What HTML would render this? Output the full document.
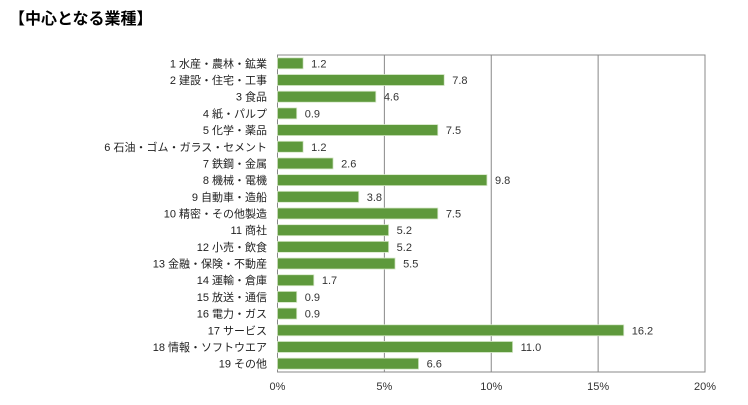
<!DOCTYPE html>
<html><head><meta charset="utf-8"><style>
body{margin:0;background:#fff;width:748px;height:400px;overflow:hidden}
text{font-family:"Liberation Sans","Noto Sans CJK JP",sans-serif}
</style></head><body>
<svg width="748" height="400" xmlns="http://www.w3.org/2000/svg">
<text x="9" y="24" font-size="16" font-weight="bold" fill="#000">【中心となる業種】</text>
<g id="c"></g>
</svg>
<script>
(function(){
var L=["1 水産・農林・鉱業","2 建設・住宅・工事","3 食品","4 紙・パルプ","5 化学・薬品","6 石油・ゴム・ガラス・セメント","7 鉄鋼・金属","8 機械・電機","9 自動車・造船","10 精密・その他製造","11 商社","12 小売・飲食","13 金融・保険・不動産","14 運輸・倉庫","15 放送・通信","16 電力・ガス","17 サービス","18 情報・ソフトウエア","19 その他"];
var V=[1.2,7.8,4.6,0.9,7.5,1.2,2.6,9.8,3.8,7.5,5.2,5.2,5.5,1.7,0.9,0.9,16.2,11.0,6.6];
var x0=277.5,w=427.5,y0=55,yb=372,p=(yb-y0)/19;
var s='';
for(var i=1;i<=4;i++){var x=x0+w*i/4;s+='<line x1="'+x+'" y1="'+y0+'" x2="'+x+'" y2="'+yb+'" stroke="#888" stroke-width="1"/>';}
s+='<rect x="'+x0+'" y="'+y0+'" width="'+w+'" height="'+(yb-y0)+'" fill="none" stroke="#888"/>';
for(var j=0;j<V.length;j++){var v=V[j];var y=y0+p*j+p/2;var bw=w*v/20;
s+='<rect x="'+x0+'" y="'+(y-5.5)+'" width="'+bw+'" height="11" fill="#5e993c" stroke="#d6e8c8" stroke-width="0.8"/>';
s+='<text x="'+(x0+bw+8)+'" y="'+(y+4)+'" font-size="11" fill="#333">'+v.toFixed(1)+'</text>';
s+='<text x="267" y="'+(y+4)+'" font-size="11" fill="#222" text-anchor="end">'+L[j]+'</text>';}
var T=["0%","5%","10%","15%","20%"];
for(var k=0;k<5;k++){s+='<text x="'+(x0+w*k/4)+'" y="390" font-size="11" fill="#333" text-anchor="middle">'+T[k]+'</text>';}
document.getElementById('c').innerHTML=s;
})();
</script>
</body></html>
